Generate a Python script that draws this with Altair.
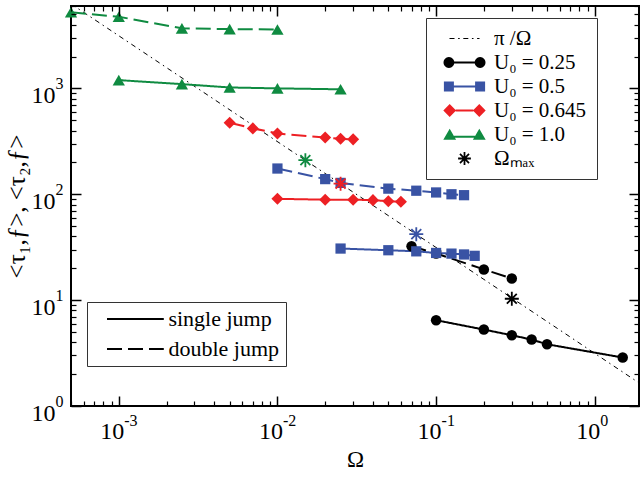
import math
import altair as alt
import pandas as pd

SERIF = "Liberation Serif"

# ---------------- data ----------------
LABELS = ["π /Ω", "U₀ = 0.25", "U₀ = 0.5", "U₀ = 0.645", "U₀ = 1.0", "Ωₘₐₓ"]
COLORS = ["#000000", "#000000", "#3953a4", "#ed2024", "#0f8b41", "#000000"]
JUMPS = ["single jump", "double jump"]

u025_single_omega = [0.1, 0.2, 0.3, 0.4, 0.5, 1.5]
u025_single_tau = [6.46, 5.27, 4.66, 4.24, 3.83, 2.87]
u025_double_omega = [0.07, 0.1, 0.2, 0.3]
u025_double_tau = [32.3, 27.6, 19.5, 16.0]

u05_single_omega = [0.025, 0.05, 0.075, 0.1, 0.125, 0.15, 0.175]
u05_single_tau = [30.7, 29.6, 28.9, 27.9, 27.5, 27.0, 26.2]
u05_double_omega = [0.01, 0.02, 0.025, 0.05, 0.075, 0.1, 0.125, 0.15]
u05_double_tau = [175, 139, 128, 113, 108, 104, 100, 98]

u0645_single_omega = [0.01, 0.02, 0.03, 0.04, 0.05, 0.06]
u0645_single_tau = [90.5, 88.9, 88.9, 88.0, 86.0, 85.0]
u0645_double_omega = [0.005, 0.007, 0.01, 0.02, 0.025, 0.03]
u0645_double_tau = [473, 419, 375, 344, 334, 330]

u1_single_omega = [0.001, 0.0025, 0.005, 0.01, 0.025]
u1_single_tau = [1197, 1097, 1020, 1000, 980]
u1_double_omega = [0.0005, 0.001, 0.0025, 0.005, 0.01]
u1_double_tau = [5230, 4750, 3690, 3630, 3600]

omega_max_series = ["U₀ = 0.25", "U₀ = 0.5", "U₀ = 0.645", "U₀ = 1.0"]
omega_max = [0.3, 0.075, 0.025, 0.015]
tau_at_omega_max = [10.3, 42.0, 126.0, 210.0]

ref_omega = [0.0005, 1.9]
ref_tau = [6283, 1.653]

X_MAJOR = [0.001, 0.01, 0.1, 1]
Y_MAJOR = [1, 10, 100, 1000]

# ---------------- tables ----------------
rows = []
def add(series, jump, om, ta):
    for o, t in zip(om, ta):
        rows.append({"omega": o, "tau": t, "series": series, "jump": jump,
                     "grp": series + "|" + jump})

add(LABELS[1], JUMPS[0], u025_single_omega, u025_single_tau)
add(LABELS[1], JUMPS[1], u025_double_omega, u025_double_tau)
add(LABELS[2], JUMPS[0], u05_single_omega, u05_single_tau)
add(LABELS[2], JUMPS[1], u05_double_omega, u05_double_tau)
add(LABELS[3], JUMPS[0], u0645_single_omega, u0645_single_tau)
add(LABELS[3], JUMPS[1], u0645_double_omega, u0645_double_tau)
add(LABELS[4], JUMPS[0], u1_single_omega, u1_single_tau)
add(LABELS[4], JUMPS[1], u1_double_omega, u1_double_tau)
df = pd.DataFrame(rows)

stars = pd.DataFrame({"omega": omega_max, "tau": tau_at_omega_max,
                      "series": omega_max_series})
ref = pd.DataFrame({"omega": ref_omega, "tau": ref_tau})
legend_df = pd.DataFrame({"series": LABELS,
                          "omega": [None] * len(LABELS),
                          "tau": [None] * len(LABELS)})

# ---------------- symbol paths (styling) ----------------
def f(v):
    s = f"{v:.3f}".rstrip("0").rstrip(".")
    return "0" if s in ("-0", "") else s

def poly(pts):
    return "M" + "L".join(f"{f(x)},{f(y)}" for x, y in pts) + "Z"

def rect(x0, y0, x1, y1):
    return poly([(x0, y0), (x1, y0), (x1, y1), (x0, y1)])

def circ(cx, cy, r, n=24):
    return poly([(cx + r * math.cos(2 * math.pi * k / n),
                  cy + r * math.sin(2 * math.pi * k / n)) for k in range(n)])

def diam(cx, cy, r):
    return poly([(cx - r, cy), (cx, cy - r), (cx + r, cy), (cx, cy + r)])

def tri(cx, hw, top, bot):
    return poly([(cx - hw, bot), (cx, top), (cx + hw, bot)])

def star(R, w):
    out = ""
    for k in range(4):
        a = math.pi * k / 4
        dx, dy = math.cos(a), math.sin(a)
        nx, ny = -dy, dx
        out += poly([(R * dx + w * nx, R * dy + w * ny),
                     (R * dx - w * nx, R * dy - w * ny),
                     (-R * dx - w * nx, -R * dy - w * ny),
                     (-R * dx + w * nx, -R * dy + w * ny)])
    return out

def dashdot(x0, x1, h):
    segs, x, k = [], x0, 0
    pattern = [1.25, 0.9, 0.4, 0.9]
    while x < x1:
        ln = pattern[k % 4]
        if k % 2 == 0:
            segs.append(rect(x, -h, min(x + ln, x1), h))
        x += ln
        k += 1
    return "".join(segs)

ANCH = rect(-5.3, -1.6, -5.3, -1.6) + rect(5.3, 1.6, 5.3, 1.6)

P_REF = dashdot(-3.75, 3.75, 0.15) + ANCH
P_CIRC = circ(-3.9, 0, 1.35) + circ(3.9, 0, 1.35) + rect(-2.7, -0.25, 2.7, 0.25) + ANCH
P_SQ = rect(-5.15, -1.25, -2.65, 1.25) + rect(2.65, -1.25, 5.15, 1.25) + rect(-2.7, -0.25, 2.7, 0.25) + ANCH
P_DIA = diam(-3.7, 0, 1.6) + diam(3.7, 0, 1.6) + rect(-2.2, -0.25, 2.2, 0.25) + ANCH
P_TRI = tri(-3.7, 1.6, -1.45, 1.3) + tri(3.7, 1.6, -1.45, 1.3) + rect(-2.6, 0.3, 2.6, 0.8) + ANCH
P_STAR_LEG = star(1.6, 0.22) + ANCH
P_STAR = star(1.0, 0.13)
LEG_SHAPES = [P_REF, P_CIRC, P_SQ, P_DIA, P_TRI, P_STAR_LEG]

# ---------------- scales ----------------
xs = alt.Scale(type="log", domain=[0.0005, 1.9], nice=False)
ys = alt.Scale(type="log", domain=[1, 6000], nice=False)
cs = alt.Scale(domain=LABELS, range=COLORS)

def X(axis=None):
    return alt.X("omega:Q", scale=xs, axis=axis)

def Y(axis=None):
    return alt.Y("tau:Q", scale=ys, axis=axis)

# ---------------- axes ----------------
X_MINOR = [round(m * 10.0 ** e, 6) for e in range(-4, 1) for m in range(2, 10)
           if 0.0005 <= m * 10.0 ** e <= 1.9]
Y_MINOR = [round(m * 10.0 ** e, 6) for e in range(0, 4) for m in range(2, 10)
           if m * 10.0 ** e <= 6000]

tick_common = dict(domain=False, labels=False, grid=False, title=None,
                   ticks=True, tickColor="black", zindex=1)

def tick_axis(orient, values, size, width):
    return alt.Axis(orient=orient, values=values, tickSize=size, offset=-size,
                    tickWidth=width, **tick_common)

lab_common = dict(ticks=False, tickSize=0, domain=False, grid=False,
                  labelFont=SERIF, labelColor="black", labelOverlap=False,
                  labelFlush=False, labelBound=False)
EXP = "'' + round(log(datum.value) / LN10)"

x_lab10 = alt.Axis(orient="bottom", values=X_MAJOR, labelExpr="'10'",
                   labelFontSize=24, labelAlign="right", labelBaseline="top",
                   labelPadding=13, labelOffset=5,
                   title="Ω", titleFont=SERIF, titleFontSize=23,
                   titleFontWeight="normal", titleColor="black",
                   titleBaseline="alphabetic", titleY=60, **lab_common)
x_labexp = alt.Axis(orient="bottom", values=X_MAJOR, labelExpr=EXP,
                    labelFontSize=16, labelAlign="left", labelBaseline="top",
                    labelPadding=6, labelOffset=5, title=None, **lab_common)
y_lab10 = alt.Axis(orient="left", values=Y_MAJOR, labelExpr="'10'",
                   labelFontSize=24, labelAlign="right", labelBaseline="middle",
                   labelPadding=16, labelOffset=7,
                   title="<τ₁,ƒ>,  <τ₂,ƒ>", titleFont=SERIF, titleFontSize=25,
                   titleFontWeight="normal", titleColor="black", titleAngle=270,
                   titleBaseline="alphabetic", titleX=-47,
                   **lab_common)
y_labexp = alt.Axis(orient="left", values=Y_MAJOR, labelExpr=EXP,
                    labelFontSize=16, labelAlign="left", labelBaseline="middle",
                    labelPadding=16, labelOffset=-5, title=None, **lab_common)

axis_pairs = [
    (tick_axis("bottom", X_MAJOR, 10, 1.5), tick_axis("left", Y_MAJOR, 10, 1.5)),
    (tick_axis("bottom", X_MINOR, 5, 1.2), tick_axis("left", Y_MINOR, 5, 1.2)),
    (tick_axis("top", X_MAJOR, 10, 1.5), tick_axis("right", Y_MAJOR, 10, 1.5)),
    (tick_axis("top", X_MINOR, 5, 1.2), tick_axis("right", Y_MINOR, 5, 1.2)),
    (x_lab10, y_lab10),
    (x_labexp, y_labexp),
]
axis_layers = [alt.Chart(ref).mark_point(opacity=0).encode(x=X(ax), y=Y(ay))
               for ax, ay in axis_pairs]

# ---------------- legends ----------------
leg1 = dict(
    title=None, orient="none", legendX=355, legendY=12,
    padding=10, strokeColor="#333333", fillColor="white",
    labelFont=SERIF, labelFontSize=21, labelColor="black", labelLimit=0,
    labelAlign="left",
    symbolSize=64, symbolStrokeWidth=0, symbolOffset=18, labelOffset=19,
    rowPadding=2,
)
legend_layer = alt.Chart(legend_df).mark_point(
    filled=True, opacity=1, size=64, strokeWidth=0
).encode(
    x=X(), y=Y(),
    color=alt.Color("series:N", scale=cs, legend=alt.Legend(**leg1)),
    shape=alt.Shape("series:N", scale=alt.Scale(domain=LABELS, range=LEG_SHAPES),
                    legend=alt.Legend(**leg1)),
)

# ---------------- marks ----------------
ref_line = alt.Chart(ref).mark_line(
    clip=True, color="black", strokeWidth=1, strokeDash=[5, 4, 1.5, 4]
).encode(x=X(), y=Y())

lines = alt.Chart(df).mark_line(strokeWidth=2).encode(
    x=X(), y=Y(),
    color=alt.Color("series:N", scale=cs, legend=None),
    strokeDash=alt.StrokeDash(
        "jump:N",
        scale=alt.Scale(domain=JUMPS, range=[[1, 0], [15, 6]]),
        legend=alt.Legend(
            title=None, orient="none", legendX=16, legendY=296,
            padding=6, strokeColor="#333333", fillColor="white",
            labelFont=SERIF, labelFontSize=22, labelColor="black", labelLimit=0,
            labelAlign="left",
            symbolType="M-7.1,0L7.1,0", symbolSize=64,
            symbolStrokeColor="black", symbolStrokeWidth=2,
            symbolOffset=31.4, labelOffset=22, rowPadding=8,
        ),
    ),
    detail="grp:N",
)

shape_of = {LABELS[1]: ("circle", 110), LABELS[2]: ("square", 105),
            LABELS[3]: ("diamond", 145), LABELS[4]: ("triangle-up", 150)}
point_layers = []
for lab in LABELS[1:5]:
    shp, sz = shape_of[lab]
    point_layers.append(
        alt.Chart(df).transform_filter(alt.FieldEqualPredicate(field="series", equal=lab))
        .mark_point(shape=shp, size=sz, filled=True, opacity=1, strokeWidth=0)
        .encode(x=X(), y=Y(), color=alt.Color("series:N", scale=cs, legend=None))
    )

star_layer = alt.Chart(stars).mark_point(
    shape=P_STAR, size=196, filled=True, opacity=1, strokeWidth=0
).encode(x=X(), y=Y(), color=alt.Color("series:N", scale=cs, legend=None))

chart = alt.layer(
    legend_layer, *axis_layers, ref_line, lines, *point_layers, star_layer
).resolve_axis(x="independent", y="independent").properties(
    width=568, height=400,
    padding={"left": 71, "top": 6, "right": 1, "bottom": 71},
    autosize=alt.AutoSizeParams(type="none"),
    background="white",
).configure_view(stroke="black", strokeWidth=2)

chart.save("out.html", embed_options={"renderer": "svg", "actions": False})
